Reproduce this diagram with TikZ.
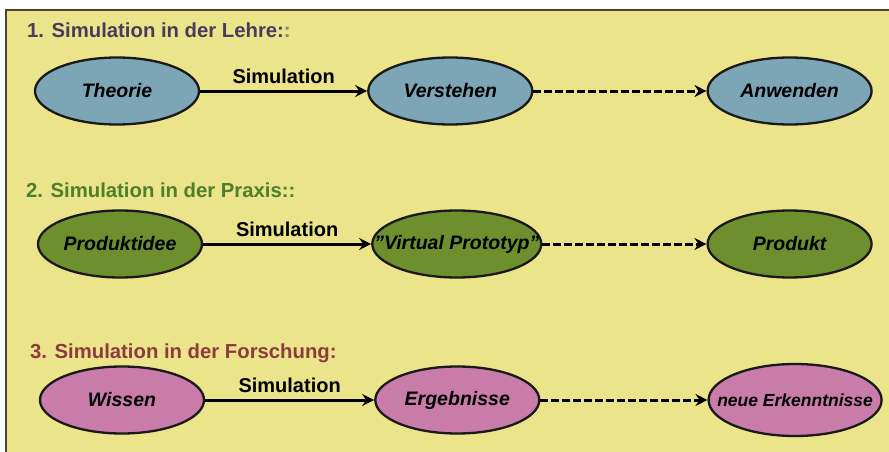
\documentclass[tikz,border=0pt]{standalone}
\usepackage{fontspec}
\setmainfont{Liberation Sans}
\usepackage{xcolor}
\usetikzlibrary{positioning,shapes.geometric,arrows.meta}

\definecolor{bgyellow}{HTML}{ECE48A}
\definecolor{framebrown}{HTML}{4E4436}
\definecolor{lehrefill}{HTML}{7CA5B5}
\definecolor{praxisfill}{HTML}{6E8F2E}
\definecolor{forschfill}{HTML}{C97CAA}
\definecolor{lehretitle}{HTML}{4A3A5E}
\definecolor{praxistitle}{HTML}{4E7F2A}
\definecolor{forschtitle}{HTML}{8E3B3E}

\newcommand{\stagetext}[1]{\makebox[0pt]{#1}}

\begin{document}
\begin{tikzpicture}[
        x=1pt, y=-1pt,
        font=\fontsize{20}{24}\selectfont,
        stage/.style={ellipse, draw=black!90, line width=2.3pt, inner sep=0pt,
            minimum width=164pt, minimum height=67pt,
            font=\bfseries\itshape\fontsize{19.5}{23}\selectfont},
        heading/.style={anchor=base west, inner sep=0pt,
            font=\bfseries\fontsize{20.3}{24}\selectfont},
        simarrow/.style={line width=3pt, -{Stealth[length=12pt,width=12pt,inset=4pt]}},
        nextarrow/.style={simarrow, dash pattern=on 7.5pt off 3.5pt},
        simlabel/.style={above=4pt, inner sep=2pt, font=\bfseries\fontsize{20}{24}\selectfont}
    ]
        \useasboundingbox (0,0) rectangle (889,452);
        \fill[bgyellow] (6,10) rectangle (889,452);
        \draw[framebrown, line width=1.5pt] (6,452) -- (6,10) -- (889,10);

        % 1. Lehre
        \node[heading, text=lehretitle] (tlehre) at (27,38)
            {1. Simulation in der Lehre:\textcolor{gray}{:}};
        \node[stage, fill=lehrefill] (theorie) at (117,91) {\stagetext{Theorie}};
        \node[stage, fill=lehrefill, right=167pt of theorie] (verstehen) {\stagetext{Verstehen}};
        \node[stage, fill=lehrefill, right=173pt of verstehen] (anwenden) {\stagetext{Anwenden}};

        \draw[simarrow] (theorie) -- node[simlabel] {Simulation} (verstehen);
        \draw[nextarrow] (verstehen) -- (anwenden);

        % 2. Praxis
        \node[heading, text=praxistitle] (tpraxis) at (26,197)
            {2. Simulation in der Praxis::};
        \node[stage, fill=praxisfill] (idee) at (120,244) {\stagetext{Produktidee}};
        \node[stage, fill=praxisfill, minimum width=169pt, right=168pt of idee] (prototyp)
            {\stagetext{"Virtual Prototyp"}};
        \node[stage, fill=praxisfill, right=164pt of prototyp] (produkt) {\stagetext{Produkt}};

        \draw[simarrow] (idee) -- node[simlabel] {Simulation} (prototyp);
        \draw[nextarrow] (prototyp) -- (produkt);

        % 3. Forschung
        \node[heading, text=forschtitle] (tforsch) at (30,358)
            {3. Simulation in der Forschung:};
        \node[stage, fill=forschfill] (wissen) at (122,400) {\stagetext{Wissen}};
        \node[stage, fill=forschfill, right=169pt of wissen] (ergebnisse) {\stagetext{Ergebnisse}};
        \node[stage, fill=forschfill, minimum width=173pt, minimum height=72pt,
            font=\bfseries\itshape\fontsize{17.5}{21}\selectfont,
            right=167pt of ergebnisse] (erkenntnisse) {\stagetext{neue Erkenntnisse}};

        \draw[simarrow] (wissen) -- node[simlabel] {Simulation} (ergebnisse);
        \draw[nextarrow] (ergebnisse) -- (erkenntnisse);
    \end{tikzpicture}
\end{document}
